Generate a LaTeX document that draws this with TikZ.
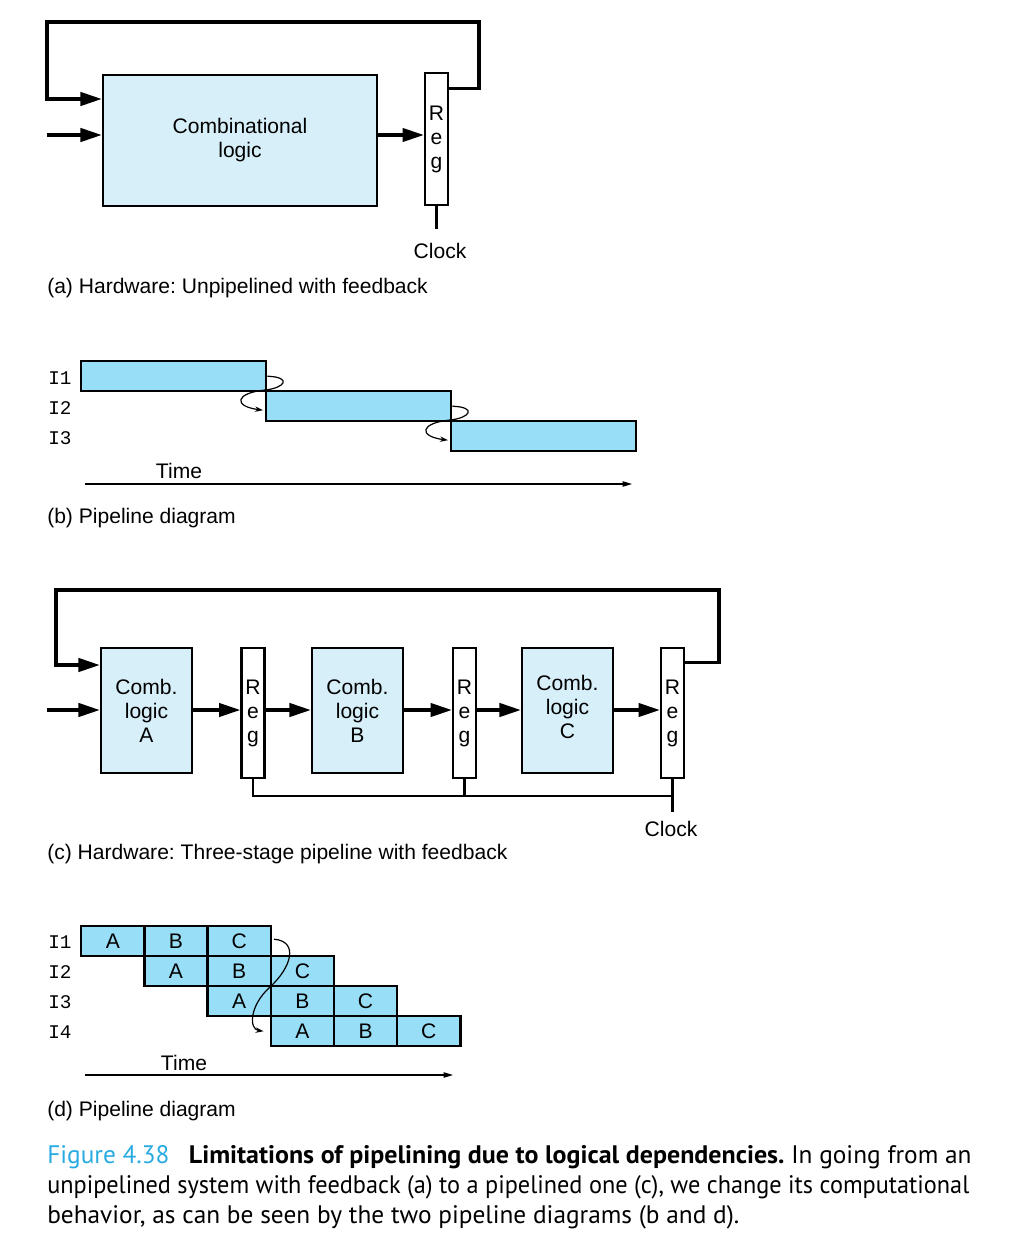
\documentclass[tikz,border=0pt]{standalone}
\usepackage{fontspec}
\usepackage{graphicx}
\setmainfont{Liberation Sans}
\newfontfamily\monofont{Liberation Mono}
\newfontfamily\capfont{PT Sans}
\usetikzlibrary{arrows.meta,calc}
\definecolor{logicfill}{RGB}{214,239,249}
\definecolor{barfill}{RGB}{152,222,246}
\definecolor{figblue}{RGB}{41,171,226}
\frenchspacing

\begin{document}
\begin{tikzpicture}[x=0.75pt,y=-0.75pt,
  dims/.style 2 args={minimum width=#1*0.75pt, minimum height=#2*0.75pt},
  lbl/.style={font=\fontsize{15.8}{18}\selectfont, inner sep=0},
  comb/.style={draw, line width=1.8pt, fill=logicfill, align=center, lbl},
  reg/.style={draw, line width=1.7pt, fill=white, align=center, lbl},
  bar/.style={draw, line width=1.8pt, fill=barfill, lbl},
  wire/.style={line width=2.4pt},
  big/.style={-{Triangle[length=16pt,width=10pt]}},
  clk/.style={line width=1.6pt},
  dep/.style={line width=0.9pt, -{Stealth[length=6pt,width=4pt]}},
  timeax/.style={line width=0.8pt, -{Triangle[length=7pt,width=4pt]}},
  rowlab/.style={font=\monofont\fontsize{14.5}{16}\selectfont, anchor=base west, inner sep=0},
  sub/.style={lbl, anchor=base west},
  caption/.style={font=\capfont\fontsize{19}{21}\selectfont, anchor=base west, inner sep=0},
]
\useasboundingbox (0,0) rectangle (1013,1245);

% ---------- (a) unpipelined hardware ----------
\node[comb, dims={274}{131}] (cl) at (240,140.5) {Combinational\\logic};
\node[reg, dims={23}{132}] (ra) at (436.5,139) {R\\e\\g};
\coordinate (ina) at (47,135);
\draw[wire,big] (ina) -- (ina -| cl.west);
\draw[wire,big] (ina -| cl.east) -- (ina -| ra.west);
\coordinate (fa1) at (479,22);
\coordinate (fa2) at (47,99);
\draw[wire,big] ($(ra.north east)+(0,17)$) -| (fa1) -| (fa2) -- (fa2 -| cl.west);
\draw[clk] (ra.south) -- ++(0,23) coordinate (clka);
\node[lbl, anchor=base] (clocka) at (440,258) {Clock};
\node[sub] (capa) at (47,293) {(a) Hardware: Unpipelined with feedback};

% ---------- (b) pipeline diagram ----------
\foreach \i/\x/\y in {1/80/360, 2/265/390, 3/450/420}
  \node[bar, dims={185}{30}, anchor=north west] (b\i) at (\x,\y) {};
\node[rowlab] (lb1) at (48,384) {I1};
\node[rowlab] (lb2) at (48,414) {I2};
\node[rowlab] (lb3) at (48,444) {I3};
\draw[dep] (b1.east) .. controls +(25,1) and +(20,-2) .. (b2.north west)
  .. controls +(-30,3) and +(-30,-4) .. ($(b2.west)+(-2,4)$);
\draw[dep] (b2.east) .. controls +(25,1) and +(20,-2) .. (b3.north west)
  .. controls +(-30,3) and +(-30,-4) .. ($(b3.west)+(-2,4)$);
\coordinate (tb0) at (85,484);
\coordinate (tb1) at (632,484);
\draw[timeax] (tb0) -- (tb1);
\node[lbl, anchor=base] (timeb) at (179,478) {Time};
\node[sub] (capb) at (47,523) {(b) Pipeline diagram};

% ---------- (c) three-stage pipelined hardware ----------
\node[comb, dims={91}{125}] (ca) at (146.5,710.5) {Comb.\\logic\\A};
\node[comb, dims={91}{125}] (cb) at (357.5,710.5) {Comb.\\logic\\B};
\node[comb, dims={91}{125}] (cc) at (567.5,710.5) {};
\node[lbl, align=center] (cct) at (567.5,706.5) {Comb.\\logic\\C};
\node[reg, dims={23}{130}] (r1) at (253,713) {R\\e\\g};
\node[reg, dims={23}{130}] (r2) at (464.5,713) {R\\e\\g};
\node[reg, dims={23}{130}] (r3) at (672.5,713) {R\\e\\g};
\coordinate (inc) at (47,710);
\draw[wire,big] (inc) -- (inc -| ca.west);
\draw[wire,big] (inc -| ca.east) -- (inc -| r1.west);
\draw[wire,big] (inc -| r1.east) -- (inc -| cb.west);
\draw[wire,big] (inc -| cb.east) -- (inc -| r2.west);
\draw[wire,big] (inc -| r2.east) -- (inc -| cc.west);
\draw[wire,big] (inc -| cc.east) -- (inc -| r3.west);
\coordinate (fc1) at (719,590);
\coordinate (fc2) at (56,665);
\draw[wire,big] ($(r3.north east)+(0,16)$) -| (fc1) -| (fc2) -- (fc2 -| ca.west);
\coordinate (bus) at (0,796);
\draw[clk] (r1.south) |- (r3.south |- bus) -- ++(0,16) coordinate (clkc);
\draw[clk] (r2.south) -- (r2.south |- bus);
\draw[clk] (r3.south) -- (r3.south |- bus);
\node[lbl, anchor=base] (clockc) at (671,836) {Clock};
\node[sub] (capc) at (47,859) {(c) Hardware: Three-stage pipeline with feedback};

% ---------- (d) pipeline diagram ----------
\foreach \r in {1,...,4}{
  \foreach \l [count=\k from 0] in {A,B,C}
    \node[bar, dims={63.2}{30}, anchor=north west] (d\r\l)
      at ({80+63.2*(\r-1+\k)},{925+30*(\r-1)}) {\l};
  \node[rowlab] (ld\r) at (48,{948+30*(\r-1)}) {I\r};
}
\draw[dep] ($(d1C.east)+(2,-2)$) .. controls +(25,2) and +(22,-20) .. (d2C.south west)
  .. controls +(-20,18) and +(-15,-2) .. ($(d4A.west)+(-6,0)$);
\coordinate (td0) at (85,1075);
\coordinate (td1) at (453,1075);
\draw[timeax] (td0) -- (td1);
\node[lbl, anchor=base] (timed) at (184,1070) {Time};
\node[sub] (capd) at (47,1116) {(d) Pipeline diagram};

% ---------- figure caption ----------
\node[caption] (cap1) at (47,1163) {{\color{figblue}Figure 4.38}\enspace\ \scalebox{1.025}[1]{\bfseries Limitations of pipelining due to logical dependencies.} In going from an};
\node[caption] (cap2) at (47,1193) {\scalebox{0.958}[1]{unpipelined system with feedback (a) to a pipelined one (c), we change its computational}};
\node[caption] (cap3) at (47,1223) {behavior, as can be seen by the two pipeline diagrams (b and d).};
\end{tikzpicture}
\end{document}
